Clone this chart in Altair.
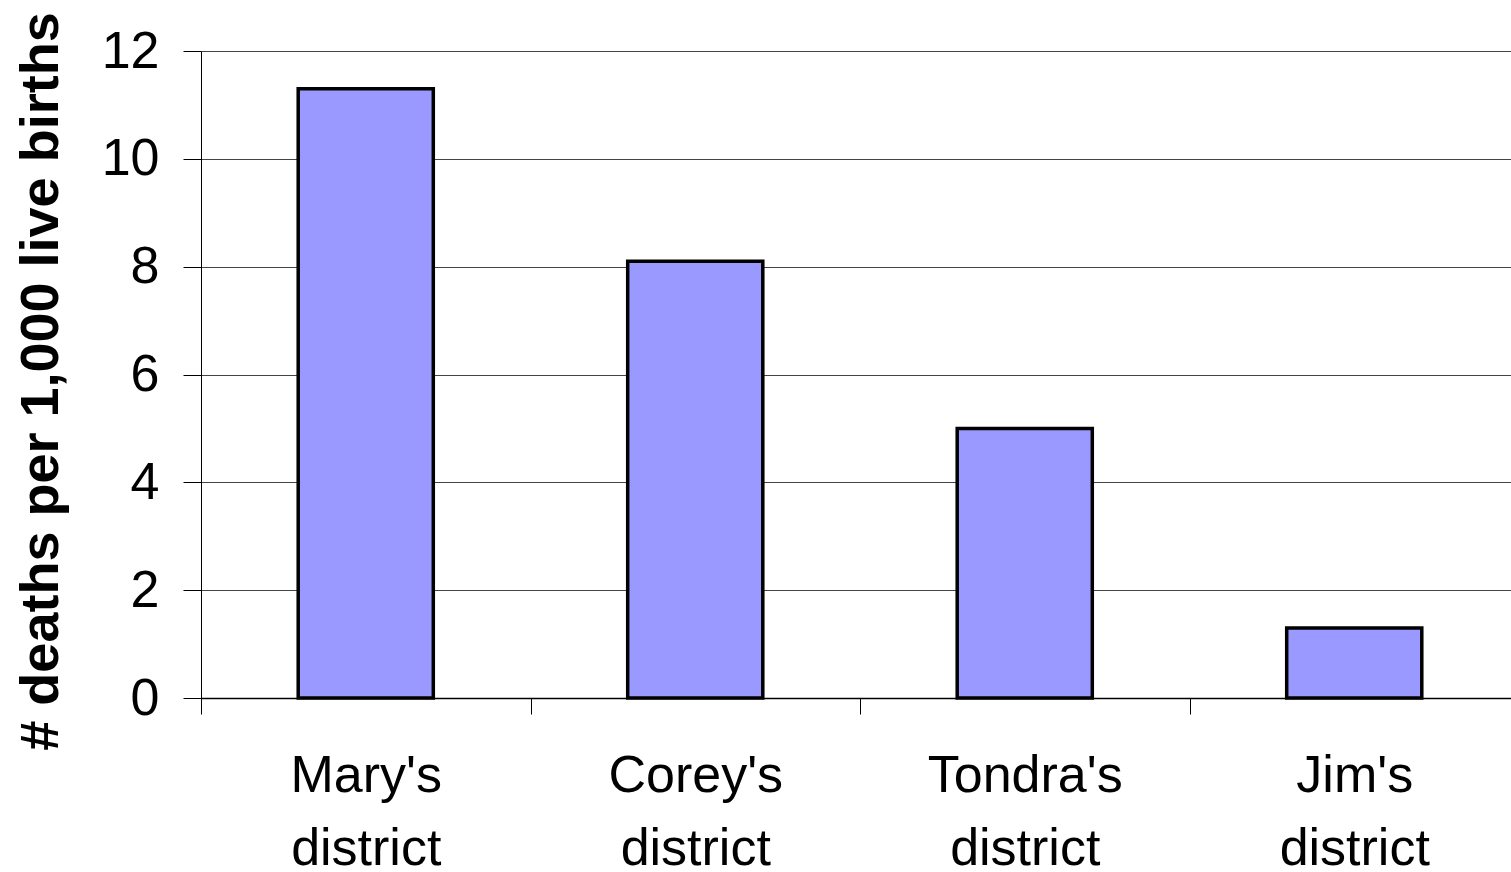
import altair as alt
import pandas as pd

districts = ["Mary's district", "Corey's district", "Tondra's district", "Jim's district"]
rates = [11.3, 8.1, 5.0, 1.3]
y_ticks = [0, 2, 4, 6, 8, 10, 12]

df = pd.DataFrame({"district": districts, "rate": rates})

FONT = "Liberation Sans"

chart = alt.Chart(df).mark_bar(
    color="#9999FF", stroke="black", strokeWidth=3.5,
    width=alt.RelativeBandSize(0.41),
).encode(
    x=alt.X(
        "district:N",
        sort=districts,
        scale=alt.Scale(paddingInner=0, paddingOuter=0, range=[0, 1318]),
        axis=alt.Axis(
            title=None,
            labelAngle=0,
            labelFont=FONT,
            labelFontSize=52,
            labelColor="black",
            labelExpr="split(datum.label, ' ')",
            labelLineHeight=73,
            labelPadding=36,
            labelLimit=600,
            tickBand="extent",
            tickSize=16,
            tickColor="black",
            tickWidth=1,
            domainColor="black",
            domainWidth=1.5,
            grid=False,
        ),
    ),
    y=alt.Y(
        "rate:Q",
        scale=alt.Scale(domain=[0, 12], nice=False),
        axis=alt.Axis(
            title="# deaths per 1,000 live births",
            values=y_ticks,
            titleFont=FONT,
            titleFontSize=54,
            titleFontWeight="bold",
            titleColor="black",
            titleAngle=-90,
            titleBaseline="alphabetic",
            titleAlign="center",
            titleX=-144,
            titleY=330,
            labelFont=FONT,
            labelFontSize=52,
            labelColor="black",
            labelPadding=24,
            tickSize=18,
            tickColor="black",
            tickWidth=1,
            domainColor="black",
            domainWidth=1,
            grid=True,
            gridColor="#444444",
            gridWidth=1.2,
        ),
    ),
).properties(
    width=1310,
    height=647,
    autosize=alt.AutoSizeParams(type="none"),
    padding={"left": 201, "top": 51, "right": 0, "bottom": 174},
).configure_view(stroke=None).configure(background="white")

chart.save("out.html", embed_options={"renderer": "svg", "actions": False})
